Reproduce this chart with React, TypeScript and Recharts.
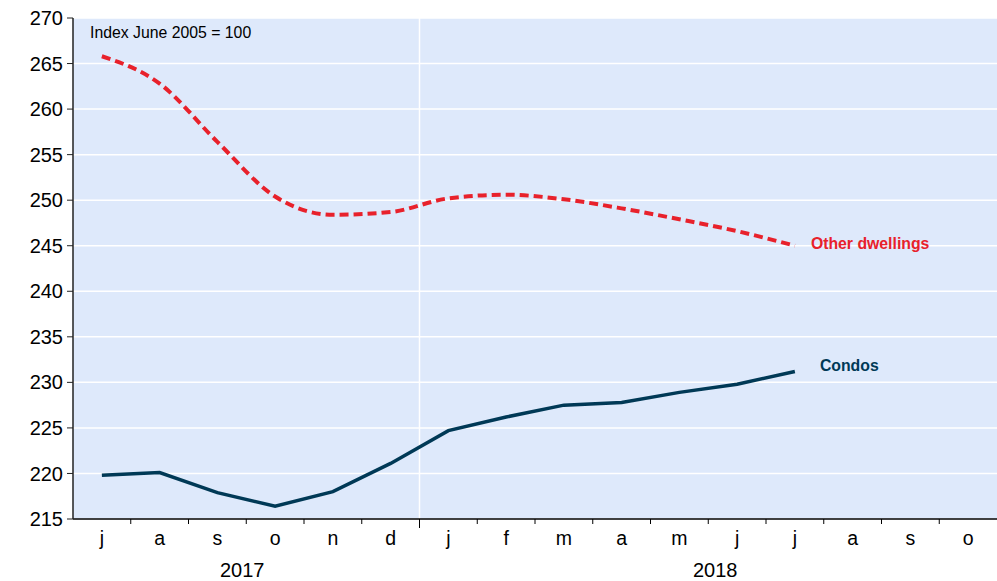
import {
  LineChart,
  Line,
  XAxis,
  YAxis,
  CartesianGrid,
  LabelList,
} from "recharts";

// monthly periods, jul 2017 .. oct 2018
const periods = [
  "2017-07", "2017-08", "2017-09", "2017-10", "2017-11", "2017-12",
  "2018-01", "2018-02", "2018-03", "2018-04", "2018-05", "2018-06",
  "2018-07", "2018-08", "2018-09", "2018-10",
];
const monthLetters = ["j", "a", "s", "o", "n", "d", "j", "f", "m", "a", "m", "j", "j", "a", "s", "o"];

const otherDwellings = [265.8, 262.8, 256.4, 250.4, 248.4, 248.7, 250.2, 250.6, 250.1, 249.1, 247.9, 246.6, 245.0, null, null, null];
const condos = [219.8, 220.1, 217.9, 216.4, 218.0, 221.1, 224.7, 226.2, 227.5, 227.8, 228.9, 229.8, 231.2, null, null, null];

const yTicks = [215, 220, 225, 230, 235, 240, 245, 250, 255, 260, 265, 270];
const yearLabels: Record<number, string> = { 3: "2017", 11: "2018" };

const RED = "#e8212b";
const NAVY = "#003956";
const FONT = "'Liberation Sans', Arial, sans-serif";

const chartData = periods.map((p, i) => ({
  period: p,
  other: otherDwellings[i],
  condos: condos[i],
}));

const lastIndex = 12;

function MonthTick(props: any) {
  const { x, y, index, width } = props;
  const band = width / periods.length;
  const left = x - band / 2;
  const year = yearLabels[index];
  return (
    <g>
      {index > 0 && (
        <line
          x1={left}
          x2={left}
          y1={y}
          y2={y + (index === 6 ? 9 : 5)}
          stroke="#000"
          strokeWidth={1}
        />
      )}
      <text x={x} y={y + 26} textAnchor="middle" fontSize={19.5} fontFamily={FONT} fill="#000">
        {monthLetters[index]}
      </text>
      {year && (
        <text
          x={left + (index === 3 ? -4 : 7)}
          y={y + 58}
          textAnchor="middle"
          fontSize={20}
          fontFamily={FONT}
          fill="#000"
        >
          {year}
        </text>
      )}
    </g>
  );
}

function seriesLabel(text: string, color: string, dx: number, dy: number) {
  return (props: any) => {
    const { x, y, index } = props;
    if (index !== lastIndex || x == null) return null;
    return (
      <text
        x={x + dx}
        y={y + dy}
        fontSize={15.8}
        fontWeight="bold"
        fontFamily={FONT}
        fill={color}
        dominantBaseline="middle"
      >
        {text}
      </text>
    );
  };
}

export default function App() {
  return (
    <div style={{ position: "absolute", left: 0, top: 0, width: 997, height: 581 }}>
      <LineChart
        width={997}
        height={581}
        data={chartData}
        margin={{ top: 18, right: 0, bottom: 0, left: 0 }}
      >
        <CartesianGrid
          fill="#dee9fb"
          stroke="#ffffff"
          strokeWidth={1.5}
          verticalCoordinatesGenerator={({ offset }: any) => [
            offset.left + (offset.width * 6) / periods.length,
          ]}
        />
        <XAxis
          dataKey="period"
          scale="band"
          interval={0}
          tickLine={false}
          tickSize={0}
          tickMargin={0}
          axisLine={{ stroke: "#000", strokeWidth: 1.5 }}
          tick={<MonthTick />}
          height={62}
        />
        <YAxis
          domain={[215, 270]}
          ticks={yTicks}
          interval={0}
          width={73}
          tickSize={6}
          tickMargin={4}
          axisLine={{ stroke: "#222", strokeWidth: 1.5 }}
          tickLine={{ stroke: "#222" }}
          tick={{ fontSize: 20, fill: "#000", fontFamily: FONT }}
        />
        <Line
          type="monotone"
          dataKey="other"
          stroke={RED}
          strokeWidth={4}
          strokeDasharray="9 5"
          dot={false}
          isAnimationActive={false}
        >
          <LabelList dataKey="other" content={seriesLabel("Other dwellings", RED, 16, -1)} />
        </Line>
        <Line
          type="linear"
          dataKey="condos"
          stroke={NAVY}
          strokeWidth={3.5}
          dot={false}
          isAnimationActive={false}
        >
          <LabelList dataKey="condos" content={seriesLabel("Condos", NAVY, 25, -5)} />
        </Line>
      </LineChart>
      <div
        style={{
          position: "absolute",
          left: 90,
          top: 24,
          fontSize: 15.8,
          fontFamily: FONT,
          color: "#000",
          whiteSpace: "nowrap",
        }}
      >
        Index June 2005 = 100
      </div>
    </div>
  );
}
